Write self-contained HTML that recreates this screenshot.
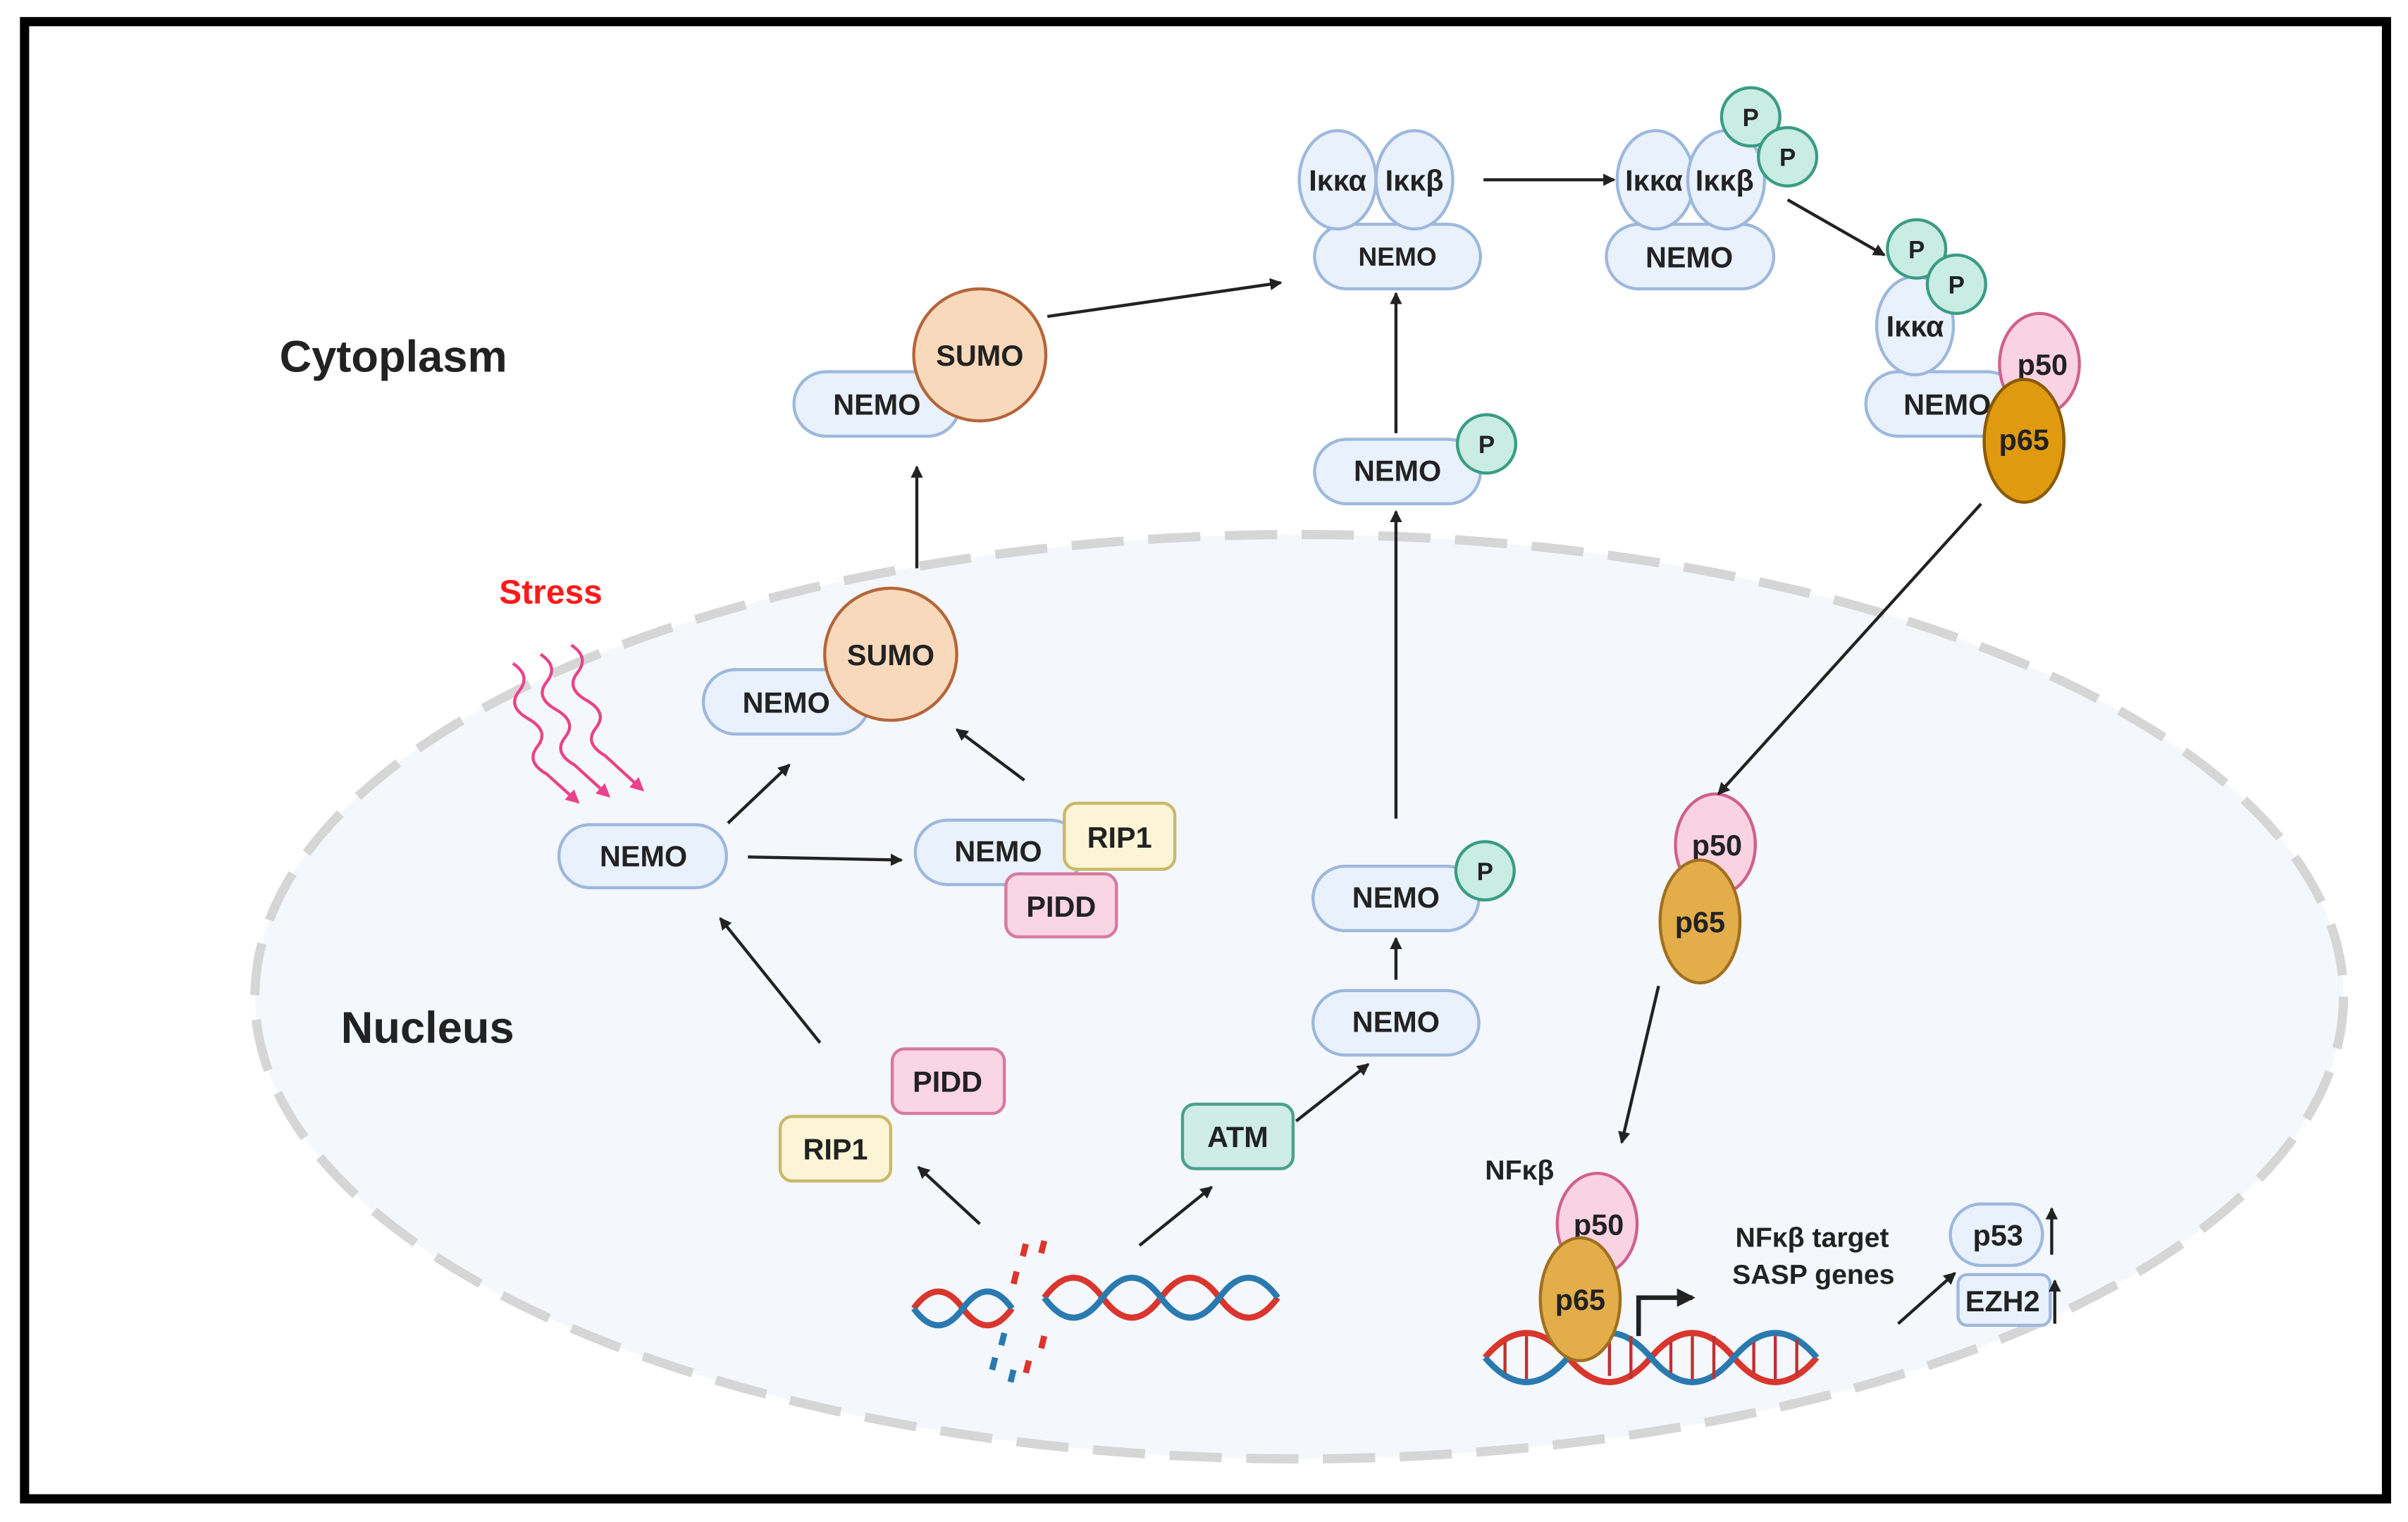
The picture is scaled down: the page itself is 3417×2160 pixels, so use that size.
<!DOCTYPE html>
<html><head><meta charset="utf-8"><style>
html,body{margin:0;padding:0;background:#fff}
svg{display:block}
text{font-family:"Liberation Sans",sans-serif;font-weight:bold;fill:#222}
</style></head><body>
<svg width="3417" height="2160" viewBox="0 0 1568 991" xmlns="http://www.w3.org/2000/svg">
<defs>
<marker id="ah" markerWidth="8" markerHeight="8" refX="7" refY="4" orient="auto" markerUnits="userSpaceOnUse" viewBox="0 0 8 8">
<path d="M0,0 L8,4 L0,8 z" fill="#222"/></marker>
<marker id="ap" markerWidth="9" markerHeight="9" refX="7" refY="4.5" orient="auto" markerUnits="userSpaceOnUse" viewBox="0 0 9 9">
<path d="M0,0 L9,4.5 L0,9 z" fill="#e8438a"/></marker>
<marker id="ah2" markerWidth="12" markerHeight="12" refX="10" refY="6" orient="auto" markerUnits="userSpaceOnUse" viewBox="0 0 12 12">
<path d="M0,0 L12,6 L0,12 z" fill="#222"/></marker>
</defs>
<rect x="0" y="0" width="1568" height="991" fill="#fff"/>
<rect x="16" y="14" width="1538" height="962" fill="#fff" stroke="#000" stroke-width="6"/>
<ellipse cx="846" cy="649" rx="680" ry="301" fill="#f4f7fb" stroke="#d6d6d6" stroke-width="6" stroke-dasharray="34 16"/>

<text x="182" y="242" font-size="29">Cytoplasm</text>
<text x="222" y="679" font-size="29" fill="#333">Nucleus</text>
<text x="325" y="393" font-size="22" style="fill:#ff1a1a">Stress</text>

<g fill="none" stroke="#e8438a" stroke-width="2" marker-end="url(#ap)">
<path d="M334,432 q12,8 4,18 q-8,10 6,18 q14,8 6,18 q-8,10 6,18 l20,18"/>
<path d="M352,426 q12,8 4,18 q-8,10 6,18 q14,8 6,18 q-8,10 6,18 l22,20"/>
<path d="M372,420 q12,8 4,18 q-8,10 6,18 q14,8 6,18 q-8,10 6,18 l24,22"/>
</g>

<g font-size="19" text-anchor="middle">
<!-- pills -->
<g fill="#e9f1fc" stroke="#9db8dc" stroke-width="2">
<rect x="517" y="242" width="108" height="42" rx="21"/>
<rect x="458" y="436" width="108" height="42" rx="21"/>
<rect x="364" y="537" width="109" height="41" rx="20"/>
<rect x="596" y="534" width="109" height="42" rx="21"/>
<rect x="855" y="645" width="108" height="42" rx="21"/>
<rect x="855" y="564" width="108" height="42" rx="21"/>
<rect x="856" y="286" width="108" height="42" rx="21"/>
<rect x="856" y="146" width="108" height="42" rx="21"/>
<ellipse cx="871" cy="117" rx="25" ry="32"/>
<ellipse cx="921" cy="117" rx="25" ry="32"/>
<rect x="1046" y="146" width="109" height="42" rx="21"/>
<ellipse cx="1078" cy="117" rx="25" ry="32"/>
<ellipse cx="1124" cy="117" rx="25" ry="32"/>
<rect x="1215" y="242" width="100" height="42" rx="21"/>
<ellipse cx="1247" cy="212" rx="25" ry="32"/>
<rect x="1270" y="784" width="60" height="40" rx="20"/>
<rect x="1275" y="830" width="60" height="33" rx="6"/>
</g>
<text x="571" y="270">NEMO</text>
<text x="512" y="464">NEMO</text>
<text x="419" y="564">NEMO</text>
<text x="650" y="561">NEMO</text>
<text x="909" y="672">NEMO</text>
<text x="909" y="591">NEMO</text>
<text x="910" y="313">NEMO</text>
<text x="910" y="173" font-size="17">NEMO</text>
<text x="871" y="124">Iκκα</text>
<text x="921" y="124">Iκκβ</text>
<text x="1100" y="174">NEMO</text>
<text x="1077" y="124">Iκκα</text>
<text x="1123" y="124">Iκκβ</text>
<text x="1268" y="270">NEMO</text>
<text x="1247" y="219">Iκκα</text>
<text x="1301" y="811">p53</text>
<text x="1304" y="854">EZH2</text>

<!-- SUMO -->
<circle cx="638" cy="231" r="43" fill="#f8d9bb" stroke="#b5653a" stroke-width="2"/>
<text x="638" y="238">SUMO</text>
<circle cx="580" cy="426" r="43" fill="#f8d9bb" stroke="#b5653a" stroke-width="2"/>
<text x="580" y="433">SUMO</text>

<!-- boxes -->
<rect x="693" y="523" width="72" height="43" rx="8" fill="#fbf5d6" stroke="#c9b96a" stroke-width="2"/>
<text x="729" y="552">RIP1</text>
<rect x="655" y="569" width="72" height="41" rx="8" fill="#fad5e4" stroke="#d67aa0" stroke-width="2"/>
<text x="691" y="597">PIDD</text>
<rect x="581" y="683" width="73" height="42" rx="8" fill="#fad5e4" stroke="#d67aa0" stroke-width="2"/>
<text x="617" y="711">PIDD</text>
<rect x="508" y="727" width="72" height="42" rx="8" fill="#fbf5d6" stroke="#c9b96a" stroke-width="2"/>
<text x="544" y="755">RIP1</text>
<rect x="770" y="719" width="72" height="42" rx="8" fill="#cfece6" stroke="#4aa08e" stroke-width="2"/>
<text x="806" y="747">ATM</text>

<!-- P circles -->
<g fill="#c9ece3" stroke="#3a9c84" stroke-width="2">
<circle cx="967" cy="567" r="19"/><circle cx="968" cy="289" r="19"/>
<circle cx="1140" cy="76" r="19"/><circle cx="1164" cy="102" r="19"/>
<circle cx="1248" cy="162" r="19"/><circle cx="1274" cy="185" r="19"/>
</g>
<g font-size="16">
<text x="967" y="573">P</text><text x="968" y="295">P</text>
<text x="1140" y="82">P</text><text x="1164" y="108">P</text>
<text x="1248" y="168">P</text><text x="1274" y="191">P</text>
</g>

<!-- p50/p65 -->
<ellipse cx="1328" cy="237" rx="26" ry="33" fill="#f9d3e2" stroke="#d0608e" stroke-width="2"/>
<text x="1330" y="244">p50</text>
<ellipse cx="1318" cy="287" rx="26" ry="40" fill="#e09a10" stroke="#8a5a00" stroke-width="2"/>
<text x="1318" y="293">p65</text>
<ellipse cx="1117" cy="550" rx="26" ry="33" fill="#f9d3e2" stroke="#d0608e" stroke-width="2"/>
<text x="1118" y="557">p50</text>
<ellipse cx="1107" cy="600" rx="26" ry="40" fill="#e3ad4a" stroke="#a07020" stroke-width="2"/>
<text x="1107" y="607">p65</text>
<ellipse cx="1040" cy="797" rx="26" ry="33" fill="#f9d3e2" stroke="#d0608e" stroke-width="2"/>
<text x="1041" y="804">p50</text>
</g>

<!-- DNA nuclear right -->
<g stroke-width="4" fill="none">
<path d="M967,884 q27,-32 54,0 t54,0 t54,0 t54,0" stroke="#d9362e"/>
<path d="M967,884 q27,32 54,0 t54,0 t54,0 t54,0" stroke="#2a7ab0"/>
</g>
<g stroke="#c03030" stroke-width="2">
<line x1="980" y1="874" x2="980" y2="894"/><line x1="994" y1="870" x2="994" y2="898"/>
<line x1="1048" y1="872" x2="1048" y2="896"/><line x1="1062" y1="870" x2="1062" y2="898"/>
<line x1="1088" y1="874" x2="1088" y2="894"/><line x1="1102" y1="870" x2="1102" y2="898"/>
<line x1="1116" y1="870" x2="1116" y2="898"/><line x1="1142" y1="874" x2="1142" y2="894"/>
<line x1="1156" y1="870" x2="1156" y2="898"/><line x1="1170" y1="872" x2="1170" y2="896"/>
</g>
<ellipse cx="1029" cy="846" rx="26" ry="40" fill="#e3ad4a" stroke="#a07020" stroke-width="2"/>
<text x="1029" y="853" font-size="19" text-anchor="middle">p65</text>
<path d="M1067,870 V845 H1102" fill="none" stroke="#222" stroke-width="3" marker-end="url(#ah2)"/>
<text x="967" y="768" font-size="18">NFκβ</text>
<text x="1130" y="812" font-size="18">NFκβ target</text>
<text x="1128" y="836" font-size="18">SASP genes</text>

<!-- broken DNA -->
<g stroke-width="4" fill="none">
<path d="M595,852 q16,-22 32,0 t32,0" stroke="#d9362e"/>
<path d="M595,852 q16,22 32,0 t32,0" stroke="#2a7ab0"/>
<path d="M680,845 q19,-26 38,0 t38,0 t38,0 t38,0" stroke="#d9362e"/>
<path d="M680,845 q19,26 38,0 t38,0 t38,0 t38,0" stroke="#2a7ab0"/>
</g>
<g stroke-width="4">
<line x1="668" y1="810" x2="666" y2="818" stroke="#d9362e"/><line x1="680" y1="808" x2="678" y2="816" stroke="#d9362e"/>
<line x1="662" y1="828" x2="660" y2="836" stroke="#d9362e"/><line x1="654" y1="868" x2="652" y2="876" stroke="#2a7ab0"/>
<line x1="648" y1="884" x2="646" y2="892" stroke="#2a7ab0"/><line x1="670" y1="886" x2="668" y2="894" stroke="#d9362e"/>
<line x1="680" y1="870" x2="678" y2="878" stroke="#d9362e"/><line x1="660" y1="892" x2="658" y2="900" stroke="#2a7ab0"/>
</g>

<!-- arrows -->
<g stroke="#222" stroke-width="2" fill="none" marker-end="url(#ah)">
<line x1="597" y1="370" x2="597" y2="304"/>
<line x1="474" y1="536" x2="514" y2="498"/>
<line x1="487" y1="558" x2="587" y2="560"/>
<line x1="667" y1="508" x2="623" y2="475"/>
<line x1="534" y1="679" x2="469" y2="598"/>
<line x1="638" y1="797" x2="598" y2="760"/>
<line x1="742" y1="811" x2="789" y2="773"/>
<line x1="844" y1="730" x2="891" y2="693"/>
<line x1="909" y1="638" x2="909" y2="611"/>
<line x1="909" y1="533" x2="909" y2="333"/>
<line x1="909" y1="282" x2="909" y2="191"/>
<line x1="682" y1="206" x2="834" y2="184"/>
<line x1="966" y1="117" x2="1051" y2="117"/>
<line x1="1164" y1="130" x2="1227" y2="166"/>
<line x1="1290" y1="328" x2="1119" y2="517"/>
<line x1="1080" y1="642" x2="1056" y2="744"/>
<line x1="1236" y1="862" x2="1273" y2="829"/>
<line x1="1336" y1="817" x2="1336" y2="787"/>
<line x1="1338" y1="862" x2="1338" y2="834"/>
</g>
</svg>
</body></html>
